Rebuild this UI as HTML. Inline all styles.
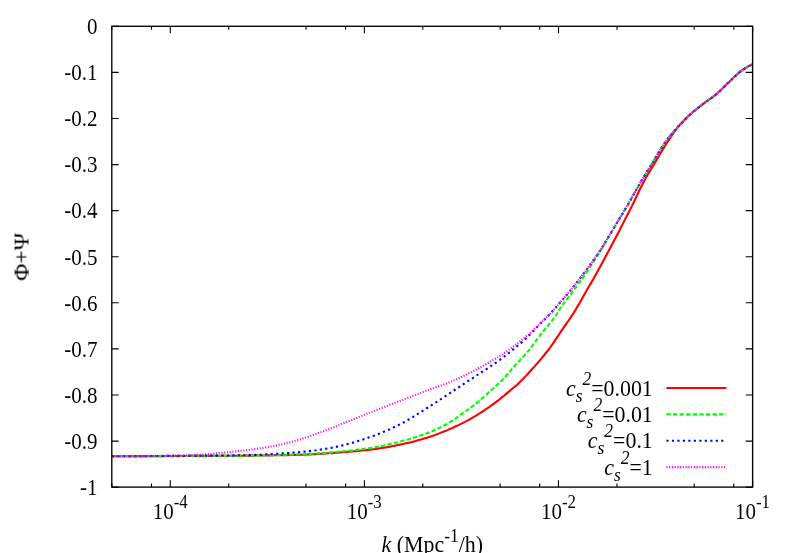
<!DOCTYPE html>
<html><head><meta charset="utf-8"><title>plot</title><style>html,body{margin:0;padding:0;background:#fff}svg{display:block}</style></head><body>
<svg width="790" height="553" viewBox="0 0 790 553">
<rect width="790" height="553" fill="#fff"/>
<path d="M111.8 26.3 h6.9 M752.6 26.3 h-6.9 M111.8 72.4 h6.9 M752.6 72.4 h-6.9 M111.8 118.5 h6.9 M752.6 118.5 h-6.9 M111.8 164.6 h6.9 M752.6 164.6 h-6.9 M111.8 210.6 h6.9 M752.6 210.6 h-6.9 M111.8 256.7 h6.9 M752.6 256.7 h-6.9 M111.8 302.8 h6.9 M752.6 302.8 h-6.9 M111.8 348.9 h6.9 M752.6 348.9 h-6.9 M111.8 395.0 h6.9 M752.6 395.0 h-6.9 M111.8 441.1 h6.9 M752.6 441.1 h-6.9 M111.8 487.1 h6.9 M752.6 487.1 h-6.9 M111.8 487.1 v-3.5 M111.8 26.3 v3.5 M151.5 487.1 v-3.5 M151.5 26.3 v3.5 M170.3 487.1 v-6.9 M170.3 26.3 v6.9 M228.7 487.1 v-3.5 M228.7 26.3 v3.5 M306.0 487.1 v-3.5 M306.0 26.3 v3.5 M345.6 487.1 v-3.5 M345.6 26.3 v3.5 M364.4 487.1 v-6.9 M364.4 26.3 v6.9 M422.8 487.1 v-3.5 M422.8 26.3 v3.5 M500.1 487.1 v-3.5 M500.1 26.3 v3.5 M539.7 487.1 v-3.5 M539.7 26.3 v3.5 M558.5 487.1 v-6.9 M558.5 26.3 v6.9 M617.0 487.1 v-3.5 M617.0 26.3 v3.5 M694.2 487.1 v-3.5 M694.2 26.3 v3.5 M733.8 487.1 v-3.5 M733.8 26.3 v3.5 M752.7 487.1 v-6.9 M752.7 26.3 v6.9" stroke="#000" stroke-width="1.10" fill="none"/>
<g fill="none" stroke-width="2.10" stroke-linejoin="round">
<path d="M111.8 456.2 L113.8 456.2 L115.8 456.2 L117.8 456.2 L119.8 456.2 L121.8 456.2 L123.8 456.2 L125.8 456.2 L127.8 456.2 L129.8 456.2 L131.8 456.2 L133.8 456.2 L135.8 456.1 L137.8 456.1 L139.8 456.1 L141.8 456.1 L143.8 456.1 L145.8 456.1 L147.8 456.1 L149.8 456.1 L151.8 456.1 L153.8 456.1 L155.8 456.1 L157.8 456.1 L159.8 456.1 L161.8 456.1 L163.8 456.1 L165.8 456.0 L167.8 456.0 L169.8 456.0 L171.8 456.0 L173.8 456.0 L175.8 456.0 L177.8 456.0 L179.8 456.0 L181.8 456.0 L183.8 456.0 L185.8 456.0 L187.8 456.0 L189.8 455.9 L191.8 455.9 L193.8 455.9 L195.8 455.9 L197.8 455.9 L199.8 455.9 L201.8 455.9 L203.8 455.9 L205.8 455.9 L207.8 455.9 L209.8 455.9 L211.8 455.8 L213.8 455.8 L215.8 455.8 L217.8 455.8 L219.8 455.8 L221.8 455.8 L223.8 455.8 L225.8 455.8 L227.8 455.8 L229.8 455.7 L231.8 455.7 L233.8 455.7 L235.8 455.7 L237.8 455.7 L239.8 455.7 L241.8 455.7 L243.8 455.7 L245.8 455.6 L247.8 455.6 L249.8 455.6 L251.8 455.6 L253.8 455.6 L255.8 455.5 L257.9 455.5 L259.9 455.5 L261.9 455.5 L263.9 455.5 L265.9 455.4 L267.9 455.4 L269.9 455.4 L271.9 455.4 L273.9 455.3 L275.9 455.3 L277.9 455.3 L279.9 455.2 L281.9 455.2 L283.9 455.2 L285.9 455.1 L287.9 455.1 L289.9 455.0 L291.9 455.0 L293.9 454.9 L295.9 454.9 L297.9 454.9 L299.9 454.8 L301.9 454.7 L303.9 454.7 L305.9 454.6 L307.9 454.5 L309.9 454.4 L311.9 454.3 L313.9 454.2 L315.9 454.1 L317.9 454.0 L319.9 453.8 L321.9 453.7 L323.9 453.6 L325.9 453.5 L327.9 453.3 L329.9 453.2 L331.9 453.1 L333.9 452.9 L335.9 452.8 L337.9 452.6 L339.9 452.5 L341.9 452.3 L343.9 452.2 L345.9 452.0 L347.9 451.8 L349.9 451.7 L351.9 451.5 L353.9 451.3 L355.9 451.1 L357.9 450.9 L359.9 450.7 L361.9 450.5 L363.9 450.3 L365.9 450.1 L367.9 449.9 L369.9 449.7 L371.9 449.4 L373.9 449.2 L375.9 448.9 L377.9 448.6 L379.9 448.3 L381.9 448.0 L383.9 447.7 L385.9 447.4 L387.9 447.0 L389.9 446.6 L391.9 446.2 L393.9 445.9 L395.9 445.5 L397.9 445.0 L399.9 444.6 L401.9 444.2 L403.9 443.8 L405.9 443.3 L407.9 442.9 L409.9 442.4 L411.9 441.9 L413.9 441.4 L415.9 440.9 L417.9 440.3 L419.9 439.8 L421.9 439.2 L423.9 438.6 L425.9 438.0 L427.9 437.4 L429.9 436.8 L431.9 436.1 L433.9 435.4 L435.9 434.6 L437.9 433.9 L439.9 433.1 L441.9 432.3 L443.9 431.5 L445.9 430.7 L447.9 429.9 L449.9 429.0 L451.9 428.2 L453.9 427.3 L455.9 426.3 L457.9 425.4 L459.9 424.4 L461.9 423.4 L463.9 422.4 L465.9 421.4 L467.9 420.3 L469.9 419.2 L471.9 418.1 L473.9 416.9 L475.9 415.7 L477.9 414.4 L479.9 413.2 L481.9 411.9 L483.9 410.6 L485.9 409.2 L487.9 407.9 L489.9 406.5 L491.9 405.1 L493.9 403.7 L495.9 402.2 L497.9 400.7 L499.9 399.1 L501.9 397.4 L503.9 395.8 L505.9 394.1 L507.9 392.4 L509.9 390.7 L511.9 389.0 L513.9 387.4 L515.9 385.8 L517.9 384.1 L519.9 382.1 L521.9 380.1 L523.9 378.0 L525.9 375.9 L527.9 373.7 L529.9 371.5 L531.9 369.3 L533.9 367.1 L535.9 364.9 L537.9 362.6 L539.9 360.3 L541.9 357.9 L543.9 355.5 L545.9 353.0 L547.9 350.5 L549.9 347.8 L551.9 345.0 L553.9 342.1 L555.9 339.1 L557.9 336.1 L559.9 333.1 L561.9 330.1 L563.9 327.2 L565.9 324.4 L567.9 321.5 L569.9 318.6 L571.9 315.7 L573.9 312.6 L575.9 309.3 L577.9 305.9 L579.9 302.4 L581.9 298.9 L583.9 295.3 L585.9 291.8 L587.9 288.3 L589.9 284.9 L591.9 281.4 L593.9 277.9 L595.9 274.4 L597.9 270.8 L599.9 267.2 L601.9 263.5 L603.9 259.7 L605.9 255.9 L607.9 252.2 L609.9 248.4 L611.9 244.7 L613.9 241.0 L615.9 237.2 L617.9 233.4 L619.9 229.6 L621.9 225.6 L623.9 221.6 L625.9 217.7 L627.9 213.9 L629.9 210.1 L631.9 206.1 L633.9 202.0 L635.9 197.8 L637.9 193.5 L639.9 189.3 L641.9 185.3 L643.9 181.4 L645.9 177.7 L647.9 174.3 L649.9 170.9 L651.9 167.7 L653.9 164.4 L655.9 161.1 L657.9 157.7 L659.9 154.3 L661.9 151.0 L663.9 147.7 L665.9 144.5 L667.9 141.4 L669.9 138.3 L671.9 135.3 L673.9 132.4 L675.9 129.6 L677.9 127.0 L679.9 124.7 L681.9 122.5 L683.9 120.4 L685.9 118.4 L687.9 116.5 L689.9 114.7 L691.9 112.9 L693.9 111.2 L695.9 109.6 L697.9 108.0 L699.9 106.4 L701.9 104.9 L703.9 103.3 L705.9 101.8 L707.9 100.4 L709.9 99.0 L711.9 97.6 L713.9 96.1 L715.9 94.5 L717.9 92.8 L719.9 91.0 L721.9 89.0 L723.9 87.0 L725.9 85.0 L727.9 83.1 L729.9 81.2 L731.9 79.3 L733.9 77.3 L735.9 75.4 L737.9 73.6 L739.9 71.9 L741.9 70.4 L743.9 69.1 L745.9 67.8 L747.9 66.6 L749.9 65.6 L752.6 64.3" stroke="#ff0000"/>
<path d="M111.8 456.2 L113.8 456.2 L115.8 456.2 L117.8 456.2 L119.8 456.2 L121.8 456.2 L123.8 456.2 L125.8 456.2 L127.8 456.2 L129.8 456.2 L131.8 456.2 L133.8 456.2 L135.8 456.2 L137.8 456.2 L139.8 456.2 L141.8 456.1 L143.8 456.1 L145.8 456.1 L147.8 456.1 L149.8 456.1 L151.8 456.1 L153.8 456.1 L155.8 456.1 L157.8 456.1 L159.8 456.1 L161.8 456.1 L163.8 456.1 L165.8 456.1 L167.8 456.1 L169.8 456.0 L171.8 456.0 L173.8 456.0 L175.8 456.0 L177.8 456.0 L179.8 456.0 L181.8 456.0 L183.8 456.0 L185.8 456.0 L187.8 456.0 L189.8 456.0 L191.8 455.9 L193.8 455.9 L195.8 455.9 L197.8 455.9 L199.8 455.9 L201.8 455.9 L203.8 455.9 L205.8 455.9 L207.8 455.9 L209.8 455.8 L211.8 455.8 L213.8 455.8 L215.8 455.8 L217.8 455.8 L219.8 455.8 L221.8 455.8 L223.8 455.8 L225.8 455.7 L227.8 455.7 L229.8 455.7 L231.8 455.7 L233.8 455.7 L235.8 455.7 L237.8 455.6 L239.8 455.6 L241.8 455.6 L243.8 455.6 L245.8 455.5 L247.8 455.5 L249.8 455.5 L251.8 455.5 L253.8 455.4 L255.8 455.4 L257.9 455.4 L259.9 455.4 L261.9 455.3 L263.9 455.3 L265.9 455.2 L267.9 455.2 L269.9 455.2 L271.9 455.1 L273.9 455.1 L275.9 455.0 L277.9 455.0 L279.9 454.9 L281.9 454.9 L283.9 454.8 L285.9 454.8 L287.9 454.7 L289.9 454.6 L291.9 454.6 L293.9 454.5 L295.9 454.4 L297.9 454.4 L299.9 454.3 L301.9 454.2 L303.9 454.2 L305.9 454.1 L307.9 454.0 L309.9 453.9 L311.9 453.8 L313.9 453.6 L315.9 453.5 L317.9 453.4 L319.9 453.3 L321.9 453.1 L323.9 453.0 L325.9 452.9 L327.9 452.7 L329.9 452.6 L331.9 452.4 L333.9 452.2 L335.9 452.0 L337.9 451.8 L339.9 451.6 L341.9 451.4 L343.9 451.2 L345.9 451.0 L347.9 450.8 L349.9 450.6 L351.9 450.4 L353.9 450.1 L355.9 449.9 L357.9 449.6 L359.9 449.4 L361.9 449.1 L363.9 448.9 L365.9 448.6 L367.9 448.3 L369.9 448.0 L371.9 447.7 L373.9 447.3 L375.9 447.0 L377.9 446.7 L379.9 446.3 L381.9 445.9 L383.9 445.5 L385.9 445.0 L387.9 444.6 L389.9 444.1 L391.9 443.6 L393.9 443.2 L395.9 442.7 L397.9 442.2 L399.9 441.6 L401.9 441.1 L403.9 440.6 L405.9 440.0 L407.9 439.5 L409.9 438.9 L411.9 438.3 L413.9 437.7 L415.9 437.1 L417.9 436.4 L419.9 435.7 L421.9 435.1 L423.9 434.3 L425.9 433.6 L427.9 432.8 L429.9 432.0 L431.9 431.2 L433.9 430.3 L435.9 429.4 L437.9 428.5 L439.9 427.6 L441.9 426.6 L443.9 425.5 L445.9 424.5 L447.9 423.4 L449.9 422.2 L451.9 421.0 L453.9 419.7 L455.9 418.3 L457.9 416.8 L459.9 415.3 L461.9 413.9 L463.9 412.5 L465.9 411.0 L467.9 409.6 L469.9 408.1 L471.9 406.7 L473.9 405.2 L475.9 403.6 L477.9 402.0 L479.9 400.4 L481.9 398.6 L483.9 396.9 L485.9 395.1 L487.9 393.2 L489.9 391.4 L491.9 389.6 L493.9 387.8 L495.9 386.0 L497.9 384.1 L499.9 382.2 L501.9 380.3 L503.9 378.2 L505.9 376.0 L507.9 373.7 L509.9 371.4 L511.9 369.0 L513.9 366.6 L515.9 364.4 L517.9 362.3 L519.9 360.1 L521.9 358.0 L523.9 355.9 L525.9 353.7 L527.9 351.4 L529.9 348.9 L531.9 346.3 L533.9 343.6 L535.9 340.9 L537.9 338.2 L539.9 335.5 L541.9 333.0 L543.9 330.5 L545.9 328.1 L547.9 325.7 L549.9 323.3 L551.9 320.8 L553.9 318.1 L555.9 315.4 L557.9 312.2 L559.9 308.9 L561.9 306.0 L563.9 303.2 L565.9 300.5 L567.9 297.9 L569.9 295.3 L571.9 292.7 L573.9 290.0 L575.9 287.3 L577.9 284.5 L579.9 281.8 L581.9 279.0 L583.9 276.2 L585.9 273.3 L587.9 270.4 L589.9 267.4 L591.9 264.3 L593.9 261.3 L595.9 258.1 L597.9 254.9 L599.9 251.7 L601.9 248.4 L603.9 245.0 L605.9 241.6 L607.9 238.1 L609.9 234.6 L611.9 231.2 L613.9 227.9 L615.9 224.5 L617.9 221.2 L619.9 217.9 L621.9 214.7 L623.9 211.4 L625.9 208.1 L627.9 204.7 L629.9 201.1 L631.9 197.6 L633.9 194.0 L635.9 190.4 L637.9 186.9 L639.9 183.5 L641.9 180.1 L643.9 176.8 L645.9 173.5 L647.9 170.3 L649.9 167.1 L651.9 163.9 L653.9 160.6 L655.9 157.1 L657.9 153.6 L659.9 150.4 L661.9 147.2 L663.9 144.2 L665.9 141.3 L667.9 138.5 L669.9 136.0 L671.9 133.6 L673.9 131.3 L675.9 129.1 L677.9 126.9 L679.9 124.8 L681.9 122.7 L683.9 120.6 L685.9 118.6 L687.9 116.6 L689.9 114.7 L691.9 112.9 L693.9 111.2 L695.9 109.6 L697.9 108.0 L699.9 106.4 L701.9 104.9 L703.9 103.3 L705.9 101.8 L707.9 100.4 L709.9 99.0 L711.9 97.6 L713.9 96.1 L715.9 94.5 L717.9 92.8 L719.9 91.0 L721.9 89.0 L723.9 87.0 L725.9 85.0 L727.9 83.1 L729.9 81.2 L731.9 79.3 L733.9 77.3 L735.9 75.4 L737.9 73.6 L739.9 71.9 L741.9 70.4 L743.9 69.1 L745.9 67.8 L747.9 66.6 L749.9 65.6 L752.6 64.3" stroke="#00ff00" stroke-dasharray="4.39 2.19"/>
<path d="M111.8 456.2 L113.8 456.2 L115.8 456.2 L117.8 456.2 L119.8 456.2 L121.8 456.2 L123.8 456.2 L125.8 456.2 L127.8 456.2 L129.8 456.2 L131.8 456.1 L133.8 456.1 L135.8 456.1 L137.8 456.1 L139.8 456.1 L141.8 456.1 L143.8 456.1 L145.8 456.1 L147.8 456.1 L149.8 456.1 L151.8 456.0 L153.8 456.0 L155.8 456.0 L157.8 456.0 L159.8 456.0 L161.8 456.0 L163.8 456.0 L165.8 456.0 L167.8 455.9 L169.8 455.9 L171.8 455.9 L173.8 455.9 L175.8 455.9 L177.8 455.9 L179.8 455.9 L181.8 455.8 L183.8 455.8 L185.8 455.8 L187.8 455.8 L189.8 455.8 L191.8 455.8 L193.8 455.7 L195.8 455.7 L197.8 455.7 L199.8 455.7 L201.8 455.7 L203.8 455.7 L205.8 455.7 L207.8 455.6 L209.8 455.6 L211.8 455.6 L213.8 455.6 L215.8 455.6 L217.8 455.6 L219.8 455.5 L221.8 455.5 L223.8 455.5 L225.8 455.5 L227.8 455.5 L229.8 455.4 L231.8 455.4 L233.8 455.4 L235.8 455.4 L237.8 455.3 L239.8 455.3 L241.8 455.3 L243.8 455.2 L245.8 455.2 L247.8 455.2 L249.8 455.1 L251.8 455.1 L253.8 455.0 L255.8 454.9 L257.9 454.9 L259.9 454.8 L261.9 454.7 L263.9 454.5 L265.9 454.4 L267.9 454.3 L269.9 454.2 L271.9 454.1 L273.9 453.9 L275.9 453.8 L277.9 453.7 L279.9 453.6 L281.9 453.4 L283.9 453.3 L285.9 453.1 L287.9 453.0 L289.9 452.9 L291.9 452.7 L293.9 452.5 L295.9 452.4 L297.9 452.2 L299.9 452.0 L301.9 451.8 L303.9 451.6 L305.9 451.4 L307.9 451.2 L309.9 451.0 L311.9 450.8 L313.9 450.5 L315.9 450.3 L317.9 450.0 L319.9 449.7 L321.9 449.4 L323.9 449.1 L325.9 448.8 L327.9 448.5 L329.9 448.1 L331.9 447.7 L333.9 447.3 L335.9 446.9 L337.9 446.4 L339.9 445.9 L341.9 445.5 L343.9 445.0 L345.9 444.4 L347.9 443.9 L349.9 443.4 L351.9 442.9 L353.9 442.3 L355.9 441.7 L357.9 441.1 L359.9 440.5 L361.9 439.9 L363.9 439.2 L365.9 438.5 L367.9 437.8 L369.9 437.1 L371.9 436.4 L373.9 435.7 L375.9 434.9 L377.9 434.2 L379.9 433.4 L381.9 432.6 L383.9 431.7 L385.9 430.9 L387.9 430.0 L389.9 429.2 L391.9 428.2 L393.9 427.3 L395.9 426.4 L397.9 425.4 L399.9 424.4 L401.9 423.3 L403.9 422.3 L405.9 421.1 L407.9 420.0 L409.9 418.8 L411.9 417.6 L413.9 416.3 L415.9 415.1 L417.9 413.8 L419.9 412.5 L421.9 411.3 L423.9 410.0 L425.9 408.8 L427.9 407.5 L429.9 406.2 L431.9 405.0 L433.9 403.7 L435.9 402.4 L437.9 401.1 L439.9 399.8 L441.9 398.5 L443.9 397.2 L445.9 395.8 L447.9 394.5 L449.9 393.2 L451.9 391.9 L453.9 390.5 L455.9 389.2 L457.9 387.8 L459.9 386.5 L461.9 385.2 L463.9 383.8 L465.9 382.5 L467.9 381.2 L469.9 379.9 L471.9 378.6 L473.9 377.3 L475.9 375.9 L477.9 374.6 L479.9 373.3 L481.9 372.0 L483.9 370.7 L485.9 369.4 L487.9 368.1 L489.9 366.7 L491.9 365.4 L493.9 364.0 L495.9 362.6 L497.9 361.2 L499.9 359.8 L501.9 358.3 L503.9 356.8 L505.9 355.2 L507.9 353.7 L509.9 352.1 L511.9 350.5 L513.9 348.9 L515.9 347.2 L517.9 345.5 L519.9 343.8 L521.9 342.1 L523.9 340.3 L525.9 338.4 L527.9 336.5 L529.9 334.5 L531.9 332.5 L533.9 330.4 L535.9 328.2 L537.9 326.1 L539.9 324.1 L541.9 322.1 L543.9 320.1 L545.9 318.1 L547.9 316.1 L549.9 314.0 L551.9 311.8 L553.9 309.6 L555.9 307.4 L557.9 305.1 L559.9 302.8 L561.9 300.5 L563.9 298.1 L565.9 295.8 L567.9 293.4 L569.9 291.0 L571.9 288.6 L573.9 286.1 L575.9 283.6 L577.9 281.0 L579.9 278.5 L581.9 275.8 L583.9 273.2 L585.9 270.5 L587.9 267.8 L589.9 265.1 L591.9 262.4 L593.9 259.6 L595.9 256.8 L597.9 253.9 L599.9 251.0 L601.9 247.9 L603.9 244.7 L605.9 241.4 L607.9 238.0 L609.9 234.6 L611.9 231.3 L613.9 227.9 L615.9 224.6 L617.9 221.2 L619.9 217.9 L621.9 214.7 L623.9 211.4 L625.9 208.1 L627.9 204.7 L629.9 201.1 L631.9 197.6 L633.9 194.0 L635.9 190.4 L637.9 186.9 L639.9 183.5 L641.9 180.1 L643.9 176.8 L645.9 173.5 L647.9 170.3 L649.9 167.1 L651.9 163.9 L653.9 160.6 L655.9 157.1 L657.9 153.6 L659.9 150.4 L661.9 147.2 L663.9 144.2 L665.9 141.3 L667.9 138.5 L669.9 136.0 L671.9 133.6 L673.9 131.3 L675.9 129.1 L677.9 126.9 L679.9 124.8 L681.9 122.7 L683.9 120.6 L685.9 118.6 L687.9 116.6 L689.9 114.7 L691.9 112.9 L693.9 111.2 L695.9 109.6 L697.9 108.0 L699.9 106.4 L701.9 104.9 L703.9 103.3 L705.9 101.8 L707.9 100.4 L709.9 99.0 L711.9 97.6 L713.9 96.1 L715.9 94.5 L717.9 92.8 L719.9 91.0 L721.9 89.0 L723.9 87.0 L725.9 85.0 L727.9 83.1 L729.9 81.2 L731.9 79.3 L733.9 77.3 L735.9 75.4 L737.9 73.6 L739.9 71.9 L741.9 70.4 L743.9 69.1 L745.9 67.8 L747.9 66.6 L749.9 65.6 L752.6 64.3" stroke="#0000ff" stroke-dasharray="2.19 3.29"/>
<path d="M111.8 456.2 L113.8 456.2 L115.8 456.2 L117.8 456.2 L119.8 456.2 L121.8 456.2 L123.8 456.2 L125.8 456.2 L127.8 456.1 L129.8 456.1 L131.8 456.1 L133.8 456.1 L135.8 456.1 L137.8 456.1 L139.8 456.0 L141.8 456.0 L143.8 456.0 L145.8 456.0 L147.8 455.9 L149.8 455.9 L151.8 455.9 L153.8 455.9 L155.8 455.8 L157.8 455.8 L159.8 455.8 L161.8 455.7 L163.8 455.7 L165.8 455.7 L167.8 455.6 L169.8 455.6 L171.8 455.6 L173.8 455.5 L175.8 455.5 L177.8 455.4 L179.8 455.4 L181.8 455.3 L183.8 455.3 L185.8 455.2 L187.8 455.2 L189.8 455.1 L191.8 455.0 L193.8 455.0 L195.8 454.9 L197.8 454.8 L199.8 454.7 L201.8 454.6 L203.8 454.5 L205.8 454.3 L207.8 454.2 L209.8 454.0 L211.8 453.8 L213.8 453.6 L215.8 453.5 L217.8 453.3 L219.8 453.0 L221.8 452.8 L223.8 452.6 L225.8 452.4 L227.8 452.2 L229.8 452.1 L231.8 451.8 L233.8 451.6 L235.8 451.4 L237.8 451.2 L239.8 451.0 L241.8 450.8 L243.8 450.5 L245.8 450.3 L247.8 450.1 L249.8 449.8 L251.8 449.5 L253.8 449.3 L255.8 449.0 L257.9 448.7 L259.9 448.4 L261.9 448.1 L263.9 447.8 L265.9 447.4 L267.9 447.1 L269.9 446.7 L271.9 446.4 L273.9 446.0 L275.9 445.6 L277.9 445.2 L279.9 444.8 L281.9 444.3 L283.9 443.8 L285.9 443.3 L287.9 442.8 L289.9 442.3 L291.9 441.7 L293.9 441.2 L295.9 440.6 L297.9 440.0 L299.9 439.4 L301.9 438.8 L303.9 438.2 L305.9 437.6 L307.9 436.9 L309.9 436.2 L311.9 435.5 L313.9 434.8 L315.9 434.0 L317.9 433.3 L319.9 432.5 L321.9 431.8 L323.9 431.0 L325.9 430.3 L327.9 429.5 L329.9 428.8 L331.9 428.0 L333.9 427.2 L335.9 426.4 L337.9 425.6 L339.9 424.8 L341.9 423.9 L343.9 423.1 L345.9 422.3 L347.9 421.5 L349.9 420.7 L351.9 419.9 L353.9 419.1 L355.9 418.3 L357.9 417.5 L359.9 416.7 L361.9 415.9 L363.9 415.1 L365.9 414.3 L367.9 413.5 L369.9 412.7 L371.9 411.9 L373.9 411.1 L375.9 410.3 L377.9 409.5 L379.9 408.7 L381.9 408.0 L383.9 407.2 L385.9 406.4 L387.9 405.6 L389.9 404.8 L391.9 404.1 L393.9 403.3 L395.9 402.5 L397.9 401.7 L399.9 401.0 L401.9 400.2 L403.9 399.4 L405.9 398.6 L407.9 397.8 L409.9 397.1 L411.9 396.3 L413.9 395.5 L415.9 394.7 L417.9 393.9 L419.9 393.2 L421.9 392.4 L423.9 391.6 L425.9 390.9 L427.9 390.2 L429.9 389.4 L431.9 388.7 L433.9 388.0 L435.9 387.3 L437.9 386.6 L439.9 385.9 L441.9 385.2 L443.9 384.4 L445.9 383.7 L447.9 382.9 L449.9 382.1 L451.9 381.2 L453.9 380.4 L455.9 379.5 L457.9 378.6 L459.9 377.7 L461.9 376.7 L463.9 375.8 L465.9 374.8 L467.9 373.8 L469.9 372.8 L471.9 371.8 L473.9 370.8 L475.9 369.7 L477.9 368.7 L479.9 367.6 L481.9 366.5 L483.9 365.4 L485.9 364.3 L487.9 363.2 L489.9 362.0 L491.9 360.8 L493.9 359.6 L495.9 358.4 L497.9 357.2 L499.9 355.9 L501.9 354.6 L503.9 353.2 L505.9 351.9 L507.9 350.5 L509.9 349.0 L511.9 347.6 L513.9 346.1 L515.9 344.6 L517.9 343.0 L519.9 341.4 L521.9 339.8 L523.9 338.2 L525.9 336.5 L527.9 334.8 L529.9 333.1 L531.9 331.2 L533.9 329.3 L535.9 327.4 L537.9 325.5 L539.9 323.6 L541.9 321.8 L543.9 319.9 L545.9 318.0 L547.9 316.1 L549.9 314.0 L551.9 311.9 L553.9 309.6 L555.9 307.4 L557.9 305.1 L559.9 302.8 L561.9 300.5 L563.9 298.1 L565.9 295.8 L567.9 293.4 L569.9 291.0 L571.9 288.6 L573.9 286.1 L575.9 283.6 L577.9 281.1 L579.9 278.5 L581.9 275.8 L583.9 273.2 L585.9 270.5 L587.9 267.8 L589.9 265.0 L591.9 262.3 L593.9 259.4 L595.9 256.6 L597.9 253.7 L599.9 250.7 L601.9 247.6 L603.9 244.4 L605.9 241.2 L607.9 237.9 L609.9 234.6 L611.9 231.3 L613.9 227.9 L615.9 224.6 L617.9 221.2 L619.9 217.9 L621.9 214.7 L623.9 211.4 L625.9 208.1 L627.9 204.7 L629.9 201.1 L631.9 197.6 L633.9 194.0 L635.9 190.4 L637.9 186.9 L639.9 183.5 L641.9 180.1 L643.9 176.8 L645.9 173.5 L647.9 170.3 L649.9 167.1 L651.9 163.9 L653.9 160.6 L655.9 157.1 L657.9 153.6 L659.9 150.4 L661.9 147.2 L663.9 144.2 L665.9 141.3 L667.9 138.5 L669.9 136.0 L671.9 133.6 L673.9 131.3 L675.9 129.1 L677.9 126.9 L679.9 124.8 L681.9 122.7 L683.9 120.6 L685.9 118.6 L687.9 116.6 L689.9 114.7 L691.9 112.9 L693.9 111.2 L695.9 109.6 L697.9 108.0 L699.9 106.4 L701.9 104.9 L703.9 103.3 L705.9 101.8 L707.9 100.4 L709.9 99.0 L711.9 97.6 L713.9 96.1 L715.9 94.5 L717.9 92.8 L719.9 91.0 L721.9 89.0 L723.9 87.0 L725.9 85.0 L727.9 83.1 L729.9 81.2 L731.9 79.3 L733.9 77.3 L735.9 75.4 L737.9 73.6 L739.9 71.9 L741.9 70.4 L743.9 69.1 L745.9 67.8 L747.9 66.6 L749.9 65.6 L752.6 64.3" stroke="#ff00ff" stroke-dasharray="1.1 1.645"/>
<path d="M666.4 388.0 H726.4" stroke="#ff0000"/>
<path d="M666.4 414.4 H726.4" stroke="#00ff00" stroke-dasharray="4.39 2.19"/>
<path d="M666.4 440.8 H726.4" stroke="#0000ff" stroke-dasharray="2.19 3.29"/>
<path d="M666.4 467.1 H726.4" stroke="#ff00ff" stroke-dasharray="1.1 1.645"/>
</g>
<rect x="111.8" y="26.3" width="640.8" height="460.8" fill="none" stroke="#000" stroke-width="1.35"/>
<g font-family="Liberation Serif, serif" font-size="21.9" fill="#000" opacity="0.995">
<text transform="translate(97.60,34.10) scale(0.960,1.070)" text-anchor="end">0</text>
<text transform="translate(97.60,80.19) scale(0.960,1.070)" text-anchor="end">-0.1</text>
<text transform="translate(97.60,126.27) scale(0.960,1.070)" text-anchor="end">-0.2</text>
<text transform="translate(97.60,172.36) scale(0.960,1.070)" text-anchor="end">-0.3</text>
<text transform="translate(97.60,218.44) scale(0.960,1.070)" text-anchor="end">-0.4</text>
<text transform="translate(97.60,264.52) scale(0.960,1.070)" text-anchor="end">-0.5</text>
<text transform="translate(97.60,310.61) scale(0.960,1.070)" text-anchor="end">-0.6</text>
<text transform="translate(97.60,356.69) scale(0.960,1.070)" text-anchor="end">-0.7</text>
<text transform="translate(97.60,402.78) scale(0.960,1.070)" text-anchor="end">-0.8</text>
<text transform="translate(97.60,448.87) scale(0.960,1.070)" text-anchor="end">-0.9</text>
<text transform="translate(97.60,494.95) scale(0.960,1.070)" text-anchor="end">-1</text>
<text transform="translate(152.64,519.40) scale(0.960,1.070)">10<tspan font-size="17.5" dy="-10.75">-4</tspan></text>
<text transform="translate(346.76,519.40) scale(0.960,1.070)">10<tspan font-size="17.5" dy="-10.75">-3</tspan></text>
<text transform="translate(540.88,519.40) scale(0.960,1.070)">10<tspan font-size="17.5" dy="-10.75">-2</tspan></text>
<text transform="translate(735.00,519.40) scale(0.960,1.070)">10<tspan font-size="17.5" dy="-10.75">-1</tspan></text>
<text transform="translate(381.60,551.50) scale(1.000,1.050)"><tspan font-style="italic">k</tspan> (Mpc<tspan font-size="17.5" dy="-9.52">-1</tspan><tspan dy="9.52">/h)</tspan></text>
<text transform="translate(28.6,257.0) rotate(-90) scale(1.07,1)" text-anchor="middle" font-size="22">Φ+Ψ</text>
<text transform="translate(652.80,395.50) scale(1.000,1.060)" text-anchor="end"><tspan font-style="italic">c</tspan><tspan font-style="italic" font-size="17.5" dy="5.66">s</tspan><tspan font-style="italic" font-size="17.5" dy="-15.94">2</tspan><tspan dy="10.28">=0.001</tspan></text>
<text transform="translate(652.80,421.90) scale(1.000,1.060)" text-anchor="end"><tspan font-style="italic">c</tspan><tspan font-style="italic" font-size="17.5" dy="5.66">s</tspan><tspan font-style="italic" font-size="17.5" dy="-15.94">2</tspan><tspan dy="10.28">=0.01</tspan></text>
<text transform="translate(652.80,448.20) scale(1.000,1.060)" text-anchor="end"><tspan font-style="italic">c</tspan><tspan font-style="italic" font-size="17.5" dy="5.66">s</tspan><tspan font-style="italic" font-size="17.5" dy="-15.94">2</tspan><tspan dy="10.28">=0.1</tspan></text>
<text transform="translate(652.80,474.50) scale(1.000,1.060)" text-anchor="end"><tspan font-style="italic">c</tspan><tspan font-style="italic" font-size="17.5" dy="5.66">s</tspan><tspan font-style="italic" font-size="17.5" dy="-15.94">2</tspan><tspan dy="10.28">=1</tspan></text>
</g>
</svg>
</body></html>
